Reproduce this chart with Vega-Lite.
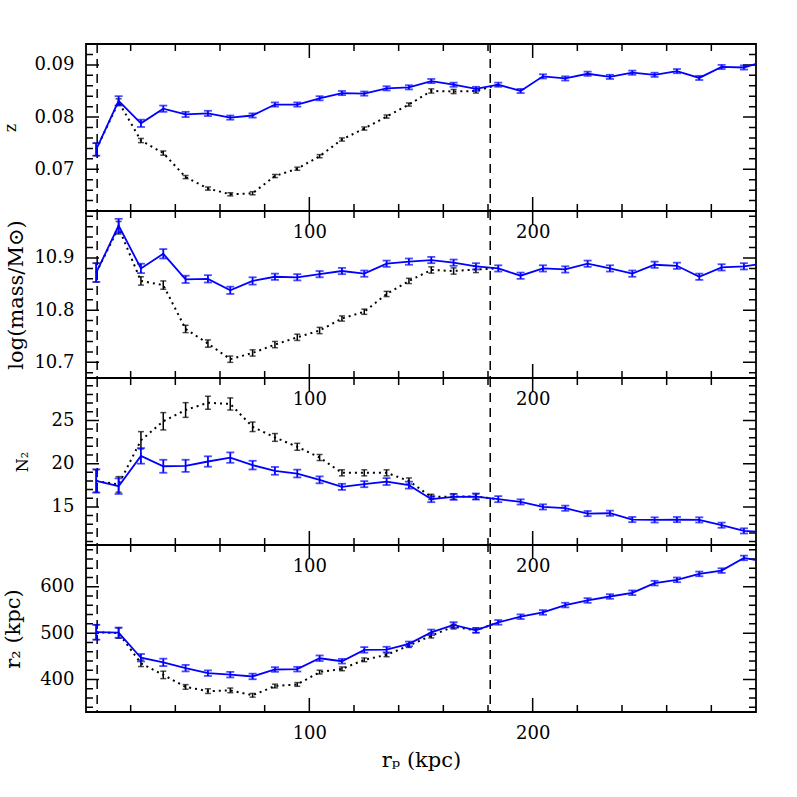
{
"$schema": "https://vega.github.io/schema/vega-lite/v6.json",
"background": "white",
"padding": {"left": 1, "top": 42, "right": 5, "bottom": 5},
"bounds": "flush",
"spacing": 0,
"config": {
  "view": {"stroke": "black", "strokeWidth": 1.8},
  "axis": {"labelFont": "DejaVu Serif", "labelFontSize": 18, "labelColor": "black", "titleFont": "DejaVu Serif", "titleFontWeight": "normal", "titleColor": "black", "ticks": false, "domain": false, "grid": false, "labelFlush": false, "labelOverlap": false, "labelPadding": 12}
},
"datasets": {
  "vlines": [{"r": 5}, {"r": 181}],
  "xt": [{"v": 20, "maj": 0}, {"v": 40, "maj": 0}, {"v": 60, "maj": 0}, {"v": 80, "maj": 0}, {"v": 100, "maj": 1}, {"v": 120, "maj": 0}, {"v": 140, "maj": 0}, {"v": 160, "maj": 0}, {"v": 180, "maj": 0}, {"v": 200, "maj": 1}, {"v": 220, "maj": 0}, {"v": 240, "maj": 0}, {"v": 260, "maj": 0}, {"v": 280, "maj": 0}],
  "zt": [{"v": 0.064, "maj": 0}, {"v": 0.066, "maj": 0}, {"v": 0.068, "maj": 0}, {"v": 0.07, "maj": 1}, {"v": 0.072, "maj": 0}, {"v": 0.074, "maj": 0}, {"v": 0.076, "maj": 0}, {"v": 0.078, "maj": 0}, {"v": 0.08, "maj": 1}, {"v": 0.082, "maj": 0}, {"v": 0.084, "maj": 0}, {"v": 0.086, "maj": 0}, {"v": 0.088, "maj": 0}, {"v": 0.09, "maj": 1}, {"v": 0.092, "maj": 0}],
  "mt": [{"v": 10.68, "maj": 0}, {"v": 10.7, "maj": 1}, {"v": 10.72, "maj": 0}, {"v": 10.74, "maj": 0}, {"v": 10.76, "maj": 0}, {"v": 10.78, "maj": 0}, {"v": 10.8, "maj": 1}, {"v": 10.82, "maj": 0}, {"v": 10.84, "maj": 0}, {"v": 10.86, "maj": 0}, {"v": 10.88, "maj": 0}, {"v": 10.9, "maj": 1}, {"v": 10.92, "maj": 0}, {"v": 10.94, "maj": 0}, {"v": 10.96, "maj": 0}, {"v": 10.98, "maj": 0}],
  "nt": [{"v": 11, "maj": 0}, {"v": 12, "maj": 0}, {"v": 13, "maj": 0}, {"v": 14, "maj": 0}, {"v": 15, "maj": 1}, {"v": 16, "maj": 0}, {"v": 17, "maj": 0}, {"v": 18, "maj": 0}, {"v": 19, "maj": 0}, {"v": 20, "maj": 1}, {"v": 21, "maj": 0}, {"v": 22, "maj": 0}, {"v": 23, "maj": 0}, {"v": 24, "maj": 0}, {"v": 25, "maj": 1}, {"v": 26, "maj": 0}, {"v": 27, "maj": 0}, {"v": 28, "maj": 0}, {"v": 29, "maj": 0}],
  "st": [{"v": 340, "maj": 0}, {"v": 360, "maj": 0}, {"v": 380, "maj": 0}, {"v": 400, "maj": 1}, {"v": 420, "maj": 0}, {"v": 440, "maj": 0}, {"v": 460, "maj": 0}, {"v": 480, "maj": 0}, {"v": 500, "maj": 1}, {"v": 520, "maj": 0}, {"v": 540, "maj": 0}, {"v": 560, "maj": 0}, {"v": 580, "maj": 0}, {"v": 600, "maj": 1}, {"v": 620, "maj": 0}, {"v": 640, "maj": 0}, {"v": 660, "maj": 0}, {"v": 680, "maj": 0}],
  "blue": [
    {"r": 4.6, "z": 0.0738, "ze": 0.0012, "m": 10.872, "me": 0.018, "n": 18.0, "ne": 1.35, "s": 502, "se": 16},
    {"r": 14.6, "z": 0.0831, "ze": 0.0009, "m": 10.962, "me": 0.013, "n": 17.4, "ne": 0.9, "s": 501, "se": 11},
    {"r": 24.6, "z": 0.0788, "ze": 0.0007, "m": 10.880, "me": 0.009, "n": 20.9, "ne": 0.9, "s": 447, "se": 8},
    {"r": 34.6, "z": 0.0816, "ze": 0.0006, "m": 10.908, "me": 0.009, "n": 19.7, "ne": 0.75, "s": 437, "se": 8},
    {"r": 44.6, "z": 0.0805, "ze": 0.0005, "m": 10.859, "me": 0.007, "n": 19.75, "ne": 0.7, "s": 424.5, "se": 7},
    {"r": 54.6, "z": 0.0807, "ze": 0.0005, "m": 10.860, "me": 0.007, "n": 20.25, "ne": 0.6, "s": 413.7, "se": 6},
    {"r": 64.6, "z": 0.0799, "ze": 0.0004, "m": 10.838, "me": 0.007, "n": 20.7, "ne": 0.6, "s": 410.5, "se": 6},
    {"r": 74.6, "z": 0.0803, "ze": 0.0004, "m": 10.856, "me": 0.007, "n": 19.83, "ne": 0.5, "s": 406.6, "se": 6},
    {"r": 84.6, "z": 0.0824, "ze": 0.0004, "m": 10.864, "me": 0.006, "n": 19.17, "ne": 0.45, "s": 421.6, "se": 5},
    {"r": 94.6, "z": 0.0824, "ze": 0.0004, "m": 10.863, "me": 0.006, "n": 18.86, "ne": 0.45, "s": 422.3, "se": 5},
    {"r": 104.6, "z": 0.0836, "ze": 0.0004, "m": 10.869, "me": 0.006, "n": 18.13, "ne": 0.4, "s": 445.9, "se": 6},
    {"r": 114.6, "z": 0.0846, "ze": 0.0004, "m": 10.875, "me": 0.006, "n": 17.32, "ne": 0.35, "s": 439.5, "se": 5},
    {"r": 124.6, "z": 0.0845, "ze": 0.0004, "m": 10.870, "me": 0.006, "n": 17.63, "ne": 0.35, "s": 463.9, "se": 6},
    {"r": 134.6, "z": 0.0855, "ze": 0.0004, "m": 10.889, "me": 0.006, "n": 17.93, "ne": 0.4, "s": 464.6, "se": 6},
    {"r": 144.6, "z": 0.0857, "ze": 0.0004, "m": 10.893, "me": 0.006, "n": 17.52, "ne": 0.4, "s": 476.8, "se": 5},
    {"r": 154.6, "z": 0.0869, "ze": 0.0004, "m": 10.896, "me": 0.006, "n": 15.9, "ne": 0.35, "s": 501.7, "se": 6},
    {"r": 164.6, "z": 0.0862, "ze": 0.0004, "m": 10.891, "me": 0.006, "n": 16.16, "ne": 0.35, "s": 517.6, "se": 6},
    {"r": 174.6, "z": 0.0854, "ze": 0.0004, "m": 10.884, "me": 0.006, "n": 16.2, "ne": 0.35, "s": 506, "se": 5},
    {"r": 184.6, "z": 0.0862, "ze": 0.0004, "m": 10.880, "me": 0.006, "n": 15.9, "ne": 0.35, "s": 523.2, "se": 5},
    {"r": 194.6, "z": 0.0850, "ze": 0.0004, "m": 10.866, "me": 0.006, "n": 15.58, "ne": 0.3, "s": 535.4, "se": 5},
    {"r": 204.6, "z": 0.0878, "ze": 0.0004, "m": 10.880, "me": 0.006, "n": 15.0, "ne": 0.3, "s": 544.6, "se": 5},
    {"r": 214.6, "z": 0.0874, "ze": 0.0004, "m": 10.878, "me": 0.006, "n": 14.85, "ne": 0.3, "s": 560.5, "se": 5},
    {"r": 224.6, "z": 0.0883, "ze": 0.0004, "m": 10.889, "me": 0.006, "n": 14.23, "ne": 0.3, "s": 570.4, "se": 5},
    {"r": 234.6, "z": 0.0877, "ze": 0.0004, "m": 10.880, "me": 0.006, "n": 14.27, "ne": 0.3, "s": 579, "se": 5},
    {"r": 244.6, "z": 0.0885, "ze": 0.0004, "m": 10.870, "me": 0.006, "n": 13.54, "ne": 0.3, "s": 587, "se": 5},
    {"r": 254.6, "z": 0.0881, "ze": 0.0004, "m": 10.887, "me": 0.006, "n": 13.5, "ne": 0.3, "s": 607.8, "se": 5},
    {"r": 264.6, "z": 0.0888, "ze": 0.0004, "m": 10.885, "me": 0.006, "n": 13.54, "ne": 0.3, "s": 614.9, "se": 5},
    {"r": 274.6, "z": 0.0875, "ze": 0.0004, "m": 10.864, "me": 0.006, "n": 13.5, "ne": 0.3, "s": 627.7, "se": 5},
    {"r": 284.6, "z": 0.0896, "ze": 0.0004, "m": 10.882, "me": 0.006, "n": 12.89, "ne": 0.3, "s": 634.8, "se": 5},
    {"r": 294.6, "z": 0.0895, "ze": 0.0004, "m": 10.884, "me": 0.006, "n": 12.23, "ne": 0.3, "s": 662.1, "se": 5},
    {"r": 304.6, "z": 0.0908, "ze": 0.0004, "m": 10.890, "me": 0.006, "n": 12.08, "ne": 0.3, "s": 653.5, "se": 5}
  ],
  "black": [
    {"r": 4.6, "z": 0.0738, "ze": 0.0012, "m": 10.872, "me": 0.018, "n": 18.0, "ne": 1.3, "s": 502, "se": 16},
    {"r": 14.6, "z": 0.0829, "ze": 0.0006, "m": 10.958, "me": 0.012, "n": 17.6, "ne": 0.9, "s": 500, "se": 11},
    {"r": 24.6, "z": 0.0755, "ze": 0.0004, "m": 10.856, "me": 0.008, "n": 22.7, "ne": 1.0, "s": 435, "se": 7},
    {"r": 34.6, "z": 0.0731, "ze": 0.0004, "m": 10.848, "me": 0.008, "n": 24.9, "ne": 1.0, "s": 410, "se": 8},
    {"r": 44.6, "z": 0.0685, "ze": 0.0003, "m": 10.764, "me": 0.007, "n": 26.2, "ne": 0.85, "s": 384, "se": 5},
    {"r": 54.6, "z": 0.0663, "ze": 0.0003, "m": 10.736, "me": 0.007, "n": 27.04, "ne": 0.75, "s": 375, "se": 5},
    {"r": 64.6, "z": 0.0652, "ze": 0.0003, "m": 10.706, "me": 0.006, "n": 26.9, "ne": 0.7, "s": 376.6, "se": 5},
    {"r": 74.6, "z": 0.0654, "ze": 0.0003, "m": 10.718, "me": 0.006, "n": 24.26, "ne": 0.55, "s": 366, "se": 4},
    {"r": 84.6, "z": 0.0687, "ze": 0.0003, "m": 10.734, "me": 0.006, "n": 23.03, "ne": 0.45, "s": 386, "se": 4},
    {"r": 94.6, "z": 0.0701, "ze": 0.0003, "m": 10.748, "me": 0.006, "n": 21.95, "ne": 0.4, "s": 389.4, "se": 4},
    {"r": 104.6, "z": 0.0725, "ze": 0.0003, "m": 10.761, "me": 0.006, "n": 20.71, "ne": 0.35, "s": 416, "se": 4},
    {"r": 114.6, "z": 0.0757, "ze": 0.0003, "m": 10.784, "me": 0.005, "n": 18.94, "ne": 0.35, "s": 423, "se": 4},
    {"r": 124.6, "z": 0.0778, "ze": 0.0003, "m": 10.797, "me": 0.005, "n": 18.94, "ne": 0.35, "s": 442.5, "se": 4},
    {"r": 134.6, "z": 0.0801, "ze": 0.0003, "m": 10.831, "me": 0.005, "n": 18.94, "ne": 0.35, "s": 453.2, "se": 4},
    {"r": 144.6, "z": 0.0824, "ze": 0.0003, "m": 10.856, "me": 0.005, "n": 18.0, "ne": 0.35, "s": 473.2, "se": 4},
    {"r": 154.6, "z": 0.0850, "ze": 0.0004, "m": 10.877, "me": 0.006, "n": 16.16, "ne": 0.3, "s": 494.6, "se": 5},
    {"r": 164.6, "z": 0.0849, "ze": 0.0004, "m": 10.875, "me": 0.006, "n": 16.2, "ne": 0.3, "s": 514, "se": 5},
    {"r": 174.6, "z": 0.0850, "ze": 0.0004, "m": 10.878, "me": 0.006, "n": 16.2, "ne": 0.3, "s": 506, "se": 5},
    {"r": 184.6, "z": 0.0862, "ze": 0.0004, "m": 10.880, "me": 0.006, "n": 15.9, "ne": 0.3, "s": 523.2, "se": 5}
  ]
},
"vconcat": [
  {
    "width": 670, "height": 167,
    "resolve": {"axis": {"x": "independent", "y": "independent"}},
    "layer": [
      {"data": {"name": "blue"}, "mark": {"type": "point", "opacity": 0}, "encoding": {
        "x": {"field": "r", "type": "quantitative", "scale": {"domain": [0, 300], "nice": false, "zero": false}, "axis": {"orient": "bottom", "values": [100, 200], "format": "d", "title": null}},
        "y": {"field": "z", "type": "quantitative", "scale": {"domain": [0.062, 0.094], "nice": false, "zero": false}, "axis": {"orient": "left", "values": [0.07, 0.08, 0.09], "format": ".2f", "title": "z", "titleFontSize": 16, "titleAngle": 270, "titleBaseline": "alphabetic", "titleAlign": "center", "titleX": -71, "titleY": 83.5}}}},
      {"data": {"name": "xt"}, "transform": [{"filter": "datum.maj == 0"}], "mark": {"type": "rule", "color": "black", "strokeWidth": 1.5, "strokeDash": [7, 153, 7]}, "encoding": {"x": {"field": "v", "type": "quantitative", "axis": null}}},
      {"data": {"name": "xt"}, "transform": [{"filter": "datum.maj == 1"}], "mark": {"type": "rule", "color": "black", "strokeWidth": 1.5, "strokeDash": [14, 139, 14]}, "encoding": {"x": {"field": "v", "type": "quantitative", "axis": null}}},
      {"data": {"name": "zt"}, "transform": [{"filter": "datum.maj == 0"}], "mark": {"type": "rule", "color": "black", "strokeWidth": 1.5, "strokeDash": [7, 656, 7]}, "encoding": {"y": {"field": "v", "type": "quantitative", "axis": null}}},
      {"data": {"name": "zt"}, "transform": [{"filter": "datum.maj == 1"}], "mark": {"type": "rule", "color": "black", "strokeWidth": 1.5, "strokeDash": [13, 644, 13]}, "encoding": {"y": {"field": "v", "type": "quantitative", "axis": null}}},
      {"data": {"name": "vlines"}, "mark": {"type": "rule", "color": "black", "strokeWidth": 1.5, "strokeDash": [9, 6]}, "encoding": {"x": {"field": "r", "type": "quantitative", "axis": null}}},
      {"data": {"name": "black"}, "mark": {"type": "line", "color": "black", "strokeWidth": 2, "strokeDash": [2, 4], "clip": true}, "encoding": {"x": {"field": "r", "type": "quantitative", "axis": null}, "y": {"field": "z", "type": "quantitative", "axis": null}}},
      {"data": {"name": "black"}, "transform": [{"filter": "datum.r < 180"}], "mark": {"type": "errorbar", "color": "black", "thickness": 1.5, "ticks": {"size": 6}}, "encoding": {"x": {"field": "r", "type": "quantitative", "axis": null}, "y": {"field": "z", "type": "quantitative", "axis": null}, "yError": {"field": "ze"}}},
      {"data": {"name": "blue"}, "mark": {"type": "line", "color": "#0000ff", "strokeWidth": 1.8, "clip": true}, "encoding": {"x": {"field": "r", "type": "quantitative", "axis": null}, "y": {"field": "z", "type": "quantitative", "axis": null}}},
      {"data": {"name": "blue"}, "transform": [{"filter": "datum.r < 300"}], "mark": {"type": "errorbar", "color": "#0000ff", "thickness": 1.8, "ticks": {"size": 8}}, "encoding": {"x": {"field": "r", "type": "quantitative", "axis": null}, "y": {"field": "z", "type": "quantitative", "axis": null}, "yError": {"field": "ze"}}}
    ]
  },
  {
    "width": 670, "height": 167,
    "resolve": {"axis": {"x": "independent", "y": "independent"}},
    "layer": [
      {"data": {"name": "blue"}, "mark": {"type": "point", "opacity": 0}, "encoding": {
        "x": {"field": "r", "type": "quantitative", "scale": {"domain": [0, 300], "nice": false, "zero": false}, "axis": {"orient": "bottom", "values": [100, 200], "format": "d", "title": null}},
        "y": {"field": "m", "type": "quantitative", "scale": {"domain": [10.67, 10.99], "nice": false, "zero": false}, "axis": {"orient": "left", "values": [10.7, 10.8, 10.9], "format": ".1f", "title": "log(mass/M⊙)", "titleFontSize": 21, "titleAngle": 270, "titleBaseline": "alphabetic", "titleAlign": "center", "titleX": -64, "titleY": 83.5}}}},
      {"data": {"name": "xt"}, "transform": [{"filter": "datum.maj == 0"}], "mark": {"type": "rule", "color": "black", "strokeWidth": 1.5, "strokeDash": [7, 153, 7]}, "encoding": {"x": {"field": "v", "type": "quantitative", "axis": null}}},
      {"data": {"name": "xt"}, "transform": [{"filter": "datum.maj == 1"}], "mark": {"type": "rule", "color": "black", "strokeWidth": 1.5, "strokeDash": [14, 139, 14]}, "encoding": {"x": {"field": "v", "type": "quantitative", "axis": null}}},
      {"data": {"name": "mt"}, "transform": [{"filter": "datum.maj == 0"}], "mark": {"type": "rule", "color": "black", "strokeWidth": 1.5, "strokeDash": [7, 656, 7]}, "encoding": {"y": {"field": "v", "type": "quantitative", "axis": null}}},
      {"data": {"name": "mt"}, "transform": [{"filter": "datum.maj == 1"}], "mark": {"type": "rule", "color": "black", "strokeWidth": 1.5, "strokeDash": [13, 644, 13]}, "encoding": {"y": {"field": "v", "type": "quantitative", "axis": null}}},
      {"data": {"name": "vlines"}, "mark": {"type": "rule", "color": "black", "strokeWidth": 1.5, "strokeDash": [9, 6]}, "encoding": {"x": {"field": "r", "type": "quantitative", "axis": null}}},
      {"data": {"name": "black"}, "mark": {"type": "line", "color": "black", "strokeWidth": 2, "strokeDash": [2, 4], "clip": true}, "encoding": {"x": {"field": "r", "type": "quantitative", "axis": null}, "y": {"field": "m", "type": "quantitative", "axis": null}}},
      {"data": {"name": "black"}, "transform": [{"filter": "datum.r < 180"}], "mark": {"type": "errorbar", "color": "black", "thickness": 1.5, "ticks": {"size": 6}}, "encoding": {"x": {"field": "r", "type": "quantitative", "axis": null}, "y": {"field": "m", "type": "quantitative", "axis": null}, "yError": {"field": "me"}}},
      {"data": {"name": "blue"}, "mark": {"type": "line", "color": "#0000ff", "strokeWidth": 1.8, "clip": true}, "encoding": {"x": {"field": "r", "type": "quantitative", "axis": null}, "y": {"field": "m", "type": "quantitative", "axis": null}}},
      {"data": {"name": "blue"}, "transform": [{"filter": "datum.r < 300"}], "mark": {"type": "errorbar", "color": "#0000ff", "thickness": 1.8, "ticks": {"size": 8}}, "encoding": {"x": {"field": "r", "type": "quantitative", "axis": null}, "y": {"field": "m", "type": "quantitative", "axis": null}, "yError": {"field": "me"}}}
    ]
  },
  {
    "width": 670, "height": 167,
    "resolve": {"axis": {"x": "independent", "y": "independent"}},
    "layer": [
      {"data": {"name": "blue"}, "mark": {"type": "point", "opacity": 0}, "encoding": {
        "x": {"field": "r", "type": "quantitative", "scale": {"domain": [0, 300], "nice": false, "zero": false}, "axis": {"orient": "bottom", "values": [100, 200], "format": "d", "title": null}},
        "y": {"field": "n", "type": "quantitative", "scale": {"domain": [10.6, 29.9], "nice": false, "zero": false}, "axis": {"orient": "left", "values": [15, 20, 25], "format": "d", "title": "N₂", "titleFontSize": 16, "titleAngle": 270, "titleBaseline": "alphabetic", "titleAlign": "center", "titleX": -59, "titleY": 83.5}}}},
      {"data": {"name": "xt"}, "transform": [{"filter": "datum.maj == 0"}], "mark": {"type": "rule", "color": "black", "strokeWidth": 1.5, "strokeDash": [7, 153, 7]}, "encoding": {"x": {"field": "v", "type": "quantitative", "axis": null}}},
      {"data": {"name": "xt"}, "transform": [{"filter": "datum.maj == 1"}], "mark": {"type": "rule", "color": "black", "strokeWidth": 1.5, "strokeDash": [14, 139, 14]}, "encoding": {"x": {"field": "v", "type": "quantitative", "axis": null}}},
      {"data": {"name": "nt"}, "transform": [{"filter": "datum.maj == 0"}], "mark": {"type": "rule", "color": "black", "strokeWidth": 1.5, "strokeDash": [7, 656, 7]}, "encoding": {"y": {"field": "v", "type": "quantitative", "axis": null}}},
      {"data": {"name": "nt"}, "transform": [{"filter": "datum.maj == 1"}], "mark": {"type": "rule", "color": "black", "strokeWidth": 1.5, "strokeDash": [13, 644, 13]}, "encoding": {"y": {"field": "v", "type": "quantitative", "axis": null}}},
      {"data": {"name": "vlines"}, "mark": {"type": "rule", "color": "black", "strokeWidth": 1.5, "strokeDash": [9, 6]}, "encoding": {"x": {"field": "r", "type": "quantitative", "axis": null}}},
      {"data": {"name": "black"}, "mark": {"type": "line", "color": "black", "strokeWidth": 2, "strokeDash": [2, 4], "clip": true}, "encoding": {"x": {"field": "r", "type": "quantitative", "axis": null}, "y": {"field": "n", "type": "quantitative", "axis": null}}},
      {"data": {"name": "black"}, "transform": [{"filter": "datum.r < 180"}], "mark": {"type": "errorbar", "color": "black", "thickness": 1.5, "ticks": {"size": 6}}, "encoding": {"x": {"field": "r", "type": "quantitative", "axis": null}, "y": {"field": "n", "type": "quantitative", "axis": null}, "yError": {"field": "ne"}}},
      {"data": {"name": "blue"}, "mark": {"type": "line", "color": "#0000ff", "strokeWidth": 1.8, "clip": true}, "encoding": {"x": {"field": "r", "type": "quantitative", "axis": null}, "y": {"field": "n", "type": "quantitative", "axis": null}}},
      {"data": {"name": "blue"}, "transform": [{"filter": "datum.r < 300"}], "mark": {"type": "errorbar", "color": "#0000ff", "thickness": 1.8, "ticks": {"size": 8}}, "encoding": {"x": {"field": "r", "type": "quantitative", "axis": null}, "y": {"field": "n", "type": "quantitative", "axis": null}, "yError": {"field": "ne"}}}
    ]
  },
  {
    "width": 670, "height": 167,
    "resolve": {"axis": {"x": "independent", "y": "independent"}},
    "layer": [
      {"data": {"name": "blue"}, "mark": {"type": "point", "opacity": 0}, "encoding": {
        "x": {"field": "r", "type": "quantitative", "scale": {"domain": [0, 300], "nice": false, "zero": false}, "axis": {"orient": "bottom", "values": [100, 200], "format": "d", "title": "rₚ (kpc)", "titleFontSize": 21, "titleBaseline": "alphabetic", "titleAlign": "center", "titleX": 335, "titleY": 54}},
        "y": {"field": "s", "type": "quantitative", "scale": {"domain": [330, 690], "nice": false, "zero": false}, "axis": {"orient": "left", "values": [400, 500, 600], "format": "d", "title": "r₂ (kpc)", "titleFontSize": 21, "titleAngle": 270, "titleBaseline": "alphabetic", "titleAlign": "center", "titleX": -67, "titleY": 83.5}}}},
      {"data": {"name": "xt"}, "transform": [{"filter": "datum.maj == 0"}], "mark": {"type": "rule", "color": "black", "strokeWidth": 1.5, "strokeDash": [7, 153, 7]}, "encoding": {"x": {"field": "v", "type": "quantitative", "axis": null}}},
      {"data": {"name": "xt"}, "transform": [{"filter": "datum.maj == 1"}], "mark": {"type": "rule", "color": "black", "strokeWidth": 1.5, "strokeDash": [14, 139, 14]}, "encoding": {"x": {"field": "v", "type": "quantitative", "axis": null}}},
      {"data": {"name": "st"}, "transform": [{"filter": "datum.maj == 0"}], "mark": {"type": "rule", "color": "black", "strokeWidth": 1.5, "strokeDash": [7, 656, 7]}, "encoding": {"y": {"field": "v", "type": "quantitative", "axis": null}}},
      {"data": {"name": "st"}, "transform": [{"filter": "datum.maj == 1"}], "mark": {"type": "rule", "color": "black", "strokeWidth": 1.5, "strokeDash": [13, 644, 13]}, "encoding": {"y": {"field": "v", "type": "quantitative", "axis": null}}},
      {"data": {"name": "vlines"}, "mark": {"type": "rule", "color": "black", "strokeWidth": 1.5, "strokeDash": [9, 6]}, "encoding": {"x": {"field": "r", "type": "quantitative", "axis": null}}},
      {"data": {"name": "black"}, "mark": {"type": "line", "color": "black", "strokeWidth": 2, "strokeDash": [2, 4], "clip": true}, "encoding": {"x": {"field": "r", "type": "quantitative", "axis": null}, "y": {"field": "s", "type": "quantitative", "axis": null}}},
      {"data": {"name": "black"}, "transform": [{"filter": "datum.r < 180"}], "mark": {"type": "errorbar", "color": "black", "thickness": 1.5, "ticks": {"size": 6}}, "encoding": {"x": {"field": "r", "type": "quantitative", "axis": null}, "y": {"field": "s", "type": "quantitative", "axis": null}, "yError": {"field": "se"}}},
      {"data": {"name": "blue"}, "mark": {"type": "line", "color": "#0000ff", "strokeWidth": 1.8, "clip": true}, "encoding": {"x": {"field": "r", "type": "quantitative", "axis": null}, "y": {"field": "s", "type": "quantitative", "axis": null}}},
      {"data": {"name": "blue"}, "transform": [{"filter": "datum.r < 300"}], "mark": {"type": "errorbar", "color": "#0000ff", "thickness": 1.8, "ticks": {"size": 8}}, "encoding": {"x": {"field": "r", "type": "quantitative", "axis": null}, "y": {"field": "s", "type": "quantitative", "axis": null}, "yError": {"field": "se"}}}
    ]
  }
]
}
